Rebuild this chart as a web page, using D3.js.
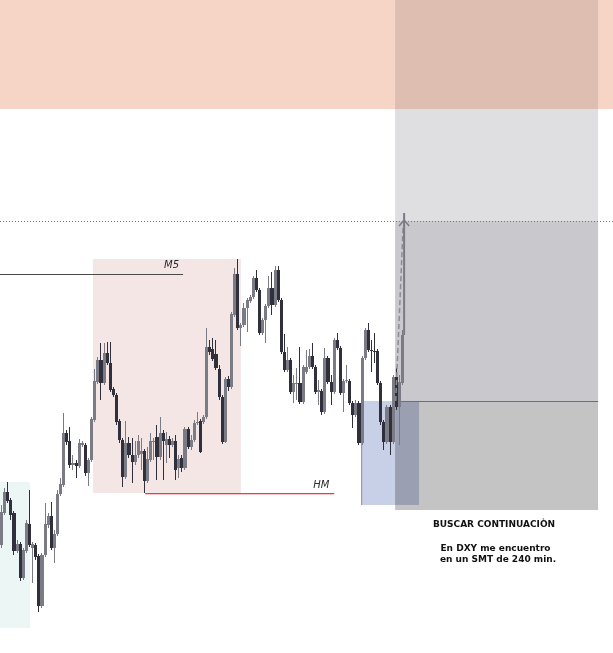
<!DOCTYPE html>
<html><head><meta charset="utf-8">
<script src="https://cdn.jsdelivr.net/npm/d3@7/dist/d3.min.js"></script>
<style>body{margin:0;background:#fff}svg{display:block}</style>
</head><body><svg id="c" width="613" height="653"></svg>
<script>
const opens=[1.2155,1.2187,1.2208,1.2200,1.2187,1.2149,1.2156,1.2122,1.2149,1.2176,
1.2152,1.2155,1.2144,1.2094,1.2145,1.2175,1.2184,1.2152,1.2166,1.2206,
1.2215,1.2267,1.2259,1.2235,1.2237,1.2234,1.2255,1.2255,1.2227,1.2240,
1.2280,1.2318,1.2340,1.2317,1.2347,1.2337,1.2311,1.2305,1.2279,1.2260,
1.2223,1.2257,1.2245,1.2238,1.2245,1.2246,1.2249,1.2219,1.2240,1.2258,
1.2263,1.2243,1.2267,1.2255,1.2261,1.2255,1.2259,1.2232,1.2242,1.2232,
1.2271,1.2253,1.2260,1.2277,1.2279,1.2278,1.2283,1.2353,1.2351,1.2346,
1.2331,1.2303,1.2258,1.2321,1.2313,1.2385,1.2426,1.2372,1.2375,1.2392,
1.2399,1.2403,1.2422,1.2410,1.2367,1.2380,1.2394,1.2412,1.2395,1.2430,
1.2400,1.2348,1.2330,1.2340,1.2308,1.2316,1.2317,1.2298,1.2328,1.2333,
1.2344,1.2333,1.2308,1.2309,1.2288,1.2342,1.2318,1.2308,1.2360,1.2352,
1.2307,1.2319,1.2319,1.2297,1.2285,1.2297,1.2257,1.2342,1.2370,1.2350,
1.2349,1.2349,1.2317,1.2278,1.2258,1.2293,1.2258,1.2323,1.2293,1.2317];
const highs=[1.2195,1.2212,1.2218,1.2202,1.2189,1.2160,1.2158,1.2152,1.2180,1.2210,
1.2158,1.2157,1.2146,1.2147,1.2197,1.2187,1.2198,1.2170,1.2210,1.2222,
1.2287,1.2270,1.2273,1.2245,1.2240,1.2261,1.2259,1.2257,1.2242,1.2283,
1.2331,1.2343,1.2357,1.2357,1.2358,1.2358,1.2313,1.2307,1.2281,1.2262,
1.2279,1.2263,1.2262,1.2259,1.2265,1.2262,1.2251,1.2253,1.2267,1.2262,
1.2275,1.2283,1.2270,1.2268,1.2264,1.2262,1.2265,1.2245,1.2245,1.2273,
1.2273,1.2265,1.2280,1.2288,1.2281,1.2285,1.2372,1.2360,1.2362,1.2360,
1.2335,1.2305,1.2323,1.2324,1.2388,1.2432,1.2441,1.2377,1.2397,1.2402,
1.2405,1.2424,1.2430,1.2412,1.2382,1.2396,1.2424,1.2428,1.2434,1.2434,
1.2402,1.2366,1.2353,1.2342,1.2325,1.2332,1.2353,1.2335,1.2350,1.2351,
1.2357,1.2335,1.2320,1.2311,1.2352,1.2344,1.2325,1.2362,1.2367,1.2354,
1.2321,1.2335,1.2321,1.2299,1.2300,1.2299,1.2344,1.2372,1.2377,1.2360,
1.2367,1.2351,1.2319,1.2280,1.2295,1.2295,1.2325,1.2332,1.2325,1.2370];
const lows=[1.2152,1.2185,1.2197,1.2180,1.2145,1.2147,1.2119,1.2120,1.2147,1.2153,
1.2117,1.2140,1.2088,1.2092,1.2143,1.2172,1.2150,1.2137,1.2164,1.2204,
1.2213,1.2255,1.2232,1.2230,1.2222,1.2232,1.2253,1.2224,1.2214,1.2238,
1.2278,1.2316,1.2300,1.2315,1.2335,1.2308,1.2303,1.2275,1.2257,1.2213,
1.2221,1.2242,1.2217,1.2235,1.2242,1.2230,1.2207,1.2217,1.2238,1.2240,
1.2220,1.2240,1.2220,1.2237,1.2242,1.2253,1.2220,1.2222,1.2228,1.2230,
1.2251,1.2250,1.2258,1.2275,1.2247,1.2276,1.2281,1.2345,1.2339,1.2330,
1.2300,1.2256,1.2257,1.2309,1.2311,1.2383,1.2370,1.2354,1.2373,1.2368,
1.2397,1.2401,1.2408,1.2365,1.2365,1.2357,1.2392,1.2385,1.2393,1.2398,
1.2346,1.2328,1.2328,1.2306,1.2297,1.2300,1.2296,1.2296,1.2326,1.2331,
1.2331,1.2306,1.2295,1.2285,1.2286,1.2316,1.2295,1.2306,1.2350,1.2305,
1.2288,1.2317,1.2295,1.2272,1.2283,1.2255,1.2255,1.2340,1.2348,1.2328,
1.2337,1.2315,1.2275,1.2250,1.2256,1.2245,1.2256,1.2290,1.2255,1.2315];
const closes=[1.2188,1.2208,1.2199,1.2185,1.2149,1.2156,1.2122,1.2150,1.2177,1.2155,
1.2156,1.2143,1.2094,1.2145,1.2176,1.2184,1.2152,1.2166,1.2206,1.2216,
1.2267,1.2258,1.2235,1.2237,1.2234,1.2257,1.2257,1.2227,1.2240,1.2281,
1.2319,1.2340,1.2317,1.2347,1.2337,1.2310,1.2305,1.2278,1.2260,1.2223,
1.2257,1.2245,1.2238,1.2245,1.2259,1.2249,1.2219,1.2241,1.2259,1.2259,
1.2243,1.2267,1.2259,1.2261,1.2255,1.2259,1.2230,1.2241,1.2232,1.2271,
1.2253,1.2260,1.2277,1.2278,1.2248,1.2283,1.2353,1.2348,1.2341,1.2332,
1.2303,1.2258,1.2321,1.2313,1.2386,1.2426,1.2372,1.2375,1.2392,1.2400,
1.2403,1.2422,1.2410,1.2367,1.2380,1.2394,1.2412,1.2395,1.2430,1.2400,
1.2348,1.2330,1.2340,1.2308,1.2317,1.2317,1.2298,1.2333,1.2333,1.2344,
1.2333,1.2308,1.2310,1.2288,1.2342,1.2318,1.2308,1.2360,1.2352,1.2307,
1.2319,1.2320,1.2297,1.2285,1.2297,1.2257,1.2342,1.2370,1.2350,1.2349,
1.2348,1.2317,1.2278,1.2258,1.2293,1.2258,1.2323,1.2293,1.2318,1.2365];

// price levels
const premiumLevel=1.2591, targetLevel=1.2479, entryLevel=1.2299, stopLevel=1.2190;
const m5Level=1.2426, hmLevel=1.2207;
const rangeTop=1.2441, rangeBottom=1.2207;
const originTop=1.2218, originBottom=1.2072;
const fvgTop=1.2299, fvgBottom=1.2195;
// bar-index spans
const m5Span=[0,58.9], hmSpan=[46.7,107.5], rangeSpan=[29.9,77.5], originSpan=[0,9.65];
const fvgSpan=[116.2,134.8], posSpan=[127.1,192.4];
const labels=["M5","HM"];
const notes=["BUSCAR CONTINUACIÒN","En DXY me encuentro","en un SMT de 240 min."];

const W=613,H=653;
const svg=d3.select("#c");
const x=d3.scaleLinear().domain([0,197.2]).range([0,W]);
const y=d3.scaleLinear().domain([1.2,1.27]).range([700,0]);
const candles=opens.map((o,i)=>({i,o,h:highs[i],l:lows[i],c:closes[i]}));
const F="DejaVu Sans, Verdana, sans-serif";

function rect(x0,x1,p0,p1,fill){
  return svg.append("rect").attr("x",x(x0)).attr("width",x(x1)-x(x0))
    .attr("y",y(p0)).attr("height",y(p1)-y(p0)).attr("fill",fill);
}
// premium zone
rect(0,197.2,1.27,premiumLevel,"#f6d5c6");
rect(posSpan[0],posSpan[1],1.27,premiumLevel,"#dfbeb2");
rect(posSpan[0],posSpan[1],premiumLevel,targetLevel,"#dfdfe1");
rect(posSpan[0],posSpan[1],targetLevel,entryLevel,"#c8c8cd");
rect(posSpan[0],posSpan[1],entryLevel,stopLevel,"#c4c4c4");
// range and origin boxes
rect(rangeSpan[0],rangeSpan[1],rangeTop,rangeBottom,"#f5e6e6");
rect(originSpan[0],originSpan[1],originTop,originBottom,"#ecf7f5");
// fvg box (multiply over grey)
rect(fvgSpan[0],fvgSpan[1],fvgTop,fvgBottom,"#c8d0e8").style("mix-blend-mode","multiply");
svg.append("line").attr("x1",x(fvgSpan[0])+0.5).attr("x2",x(fvgSpan[0])+0.5)
  .attr("y1",y(fvgTop)).attr("y2",y(fvgBottom)).attr("stroke","#8a90a4").attr("stroke-width",1);

// entry line
svg.append("line").attr("x1",x(posSpan[0])).attr("x2",x(posSpan[1]))
  .attr("y1",Math.round(y(entryLevel))+0.5).attr("y2",Math.round(y(entryLevel))+0.5)
  .attr("stroke","#6e6e74").attr("stroke-width",1);

// M5 line
svg.append("line").attr("x1",x(m5Span[0])).attr("x2",x(m5Span[1]))
  .attr("y1",Math.round(y(m5Level))+0.5).attr("y2",Math.round(y(m5Level))+0.5)
  .attr("stroke","#4a4a4a").attr("stroke-width",1);

// candles
const bull="#7b7b86", bear="#2f303c";
const px=i=>Math.round(x(i));
const g=svg.append("g").attr("shape-rendering","crispEdges");
g.selectAll("line.w").data(candles).join("line").attr("class","w")
  .attr("x1",d=>px(d.i)+1.5).attr("x2",d=>px(d.i)+1.5)
  .attr("y1",d=>y(d.h)).attr("y2",d=>y(d.l))
  .attr("stroke",d=>d.c>=d.o?bull:bear).attr("stroke-width",1);
g.selectAll("rect.b").data(candles).join("rect").attr("class","b")
  .attr("x",d=>px(d.i)).attr("width",d=>Math.max(3,px(d.i+1)-px(d.i)))
  .attr("y",d=>y(Math.max(d.o,d.c)))
  .attr("height",d=>Math.max(1,Math.abs(y(d.o)-y(d.c))))
  .attr("fill",d=>d.c>=d.o?bull:bear);

// HM line (red)
svg.append("rect").attr("x",x(hmSpan[0])).attr("width",x(hmSpan[1])-x(hmSpan[0]))
  .attr("y",Math.round(y(hmLevel))).attr("height",1.3)
  .attr("fill","#f2394b");

// target dotted line
svg.append("line").attr("x1",0).attr("x2",W)
  .attr("y1",Math.round(y(targetLevel))+0.5).attr("y2",Math.round(y(targetLevel))+0.5)
  .attr("stroke","#77777d").attr("stroke-width",1).attr("stroke-dasharray","1,2");

// projection: dashed path and arrow
const last=candles[candles.length-1];
svg.append("line").attr("x1",x(127.3)).attr("y1",y(entryLevel))
  .attr("x2",x(129.7)).attr("y2",y(targetLevel-0.0004))
  .attr("stroke","#8c8c93").attr("stroke-width",1.5).attr("stroke-dasharray","5,3");
const ax=x(130);
svg.append("line").attr("x1",ax).attr("x2",ax).attr("y1",y(last.c)).attr("y2",y(targetLevel+0.0008))
  .attr("stroke","#7b7b86").attr("stroke-width",2);
svg.append("path").attr("d",`M${ax-5},${y(targetLevel)+5}L${ax},${y(targetLevel)-1}L${ax+5},${y(targetLevel)+5}`)
  .attr("fill","none").attr("stroke","#7b7b86").attr("stroke-width",1.5);

// labels
svg.append("text").attr("x",x(m5Span[1])-19).attr("y",y(m5Level)-6)
  .attr("font-family",F).attr("font-size",10).attr("font-style","italic").attr("fill","#2a2a2a").text(labels[0]);
svg.append("text").attr("x",x(hmSpan[1])-21).attr("y",y(hmLevel)-5)
  .attr("font-family",F).attr("font-size",10).attr("font-style","italic").attr("fill","#2a2a2a").text(labels[1]);

svg.append("text").attr("x",494).attr("y",527).attr("text-anchor","middle")
  .attr("font-family",F).attr("font-size",9).attr("font-weight","bold").attr("fill","#111").text(notes[0]);
svg.append("text").attr("x",495.5).attr("y",551).attr("text-anchor","middle")
  .attr("font-family",F).attr("font-size",9).attr("font-weight","bold").attr("fill","#111").text(notes[1]);
svg.append("text").attr("x",498).attr("y",562).attr("text-anchor","middle")
  .attr("font-family",F).attr("font-size",9).attr("font-weight","bold").attr("fill","#111").text(notes[2]);
</script></body></html>
